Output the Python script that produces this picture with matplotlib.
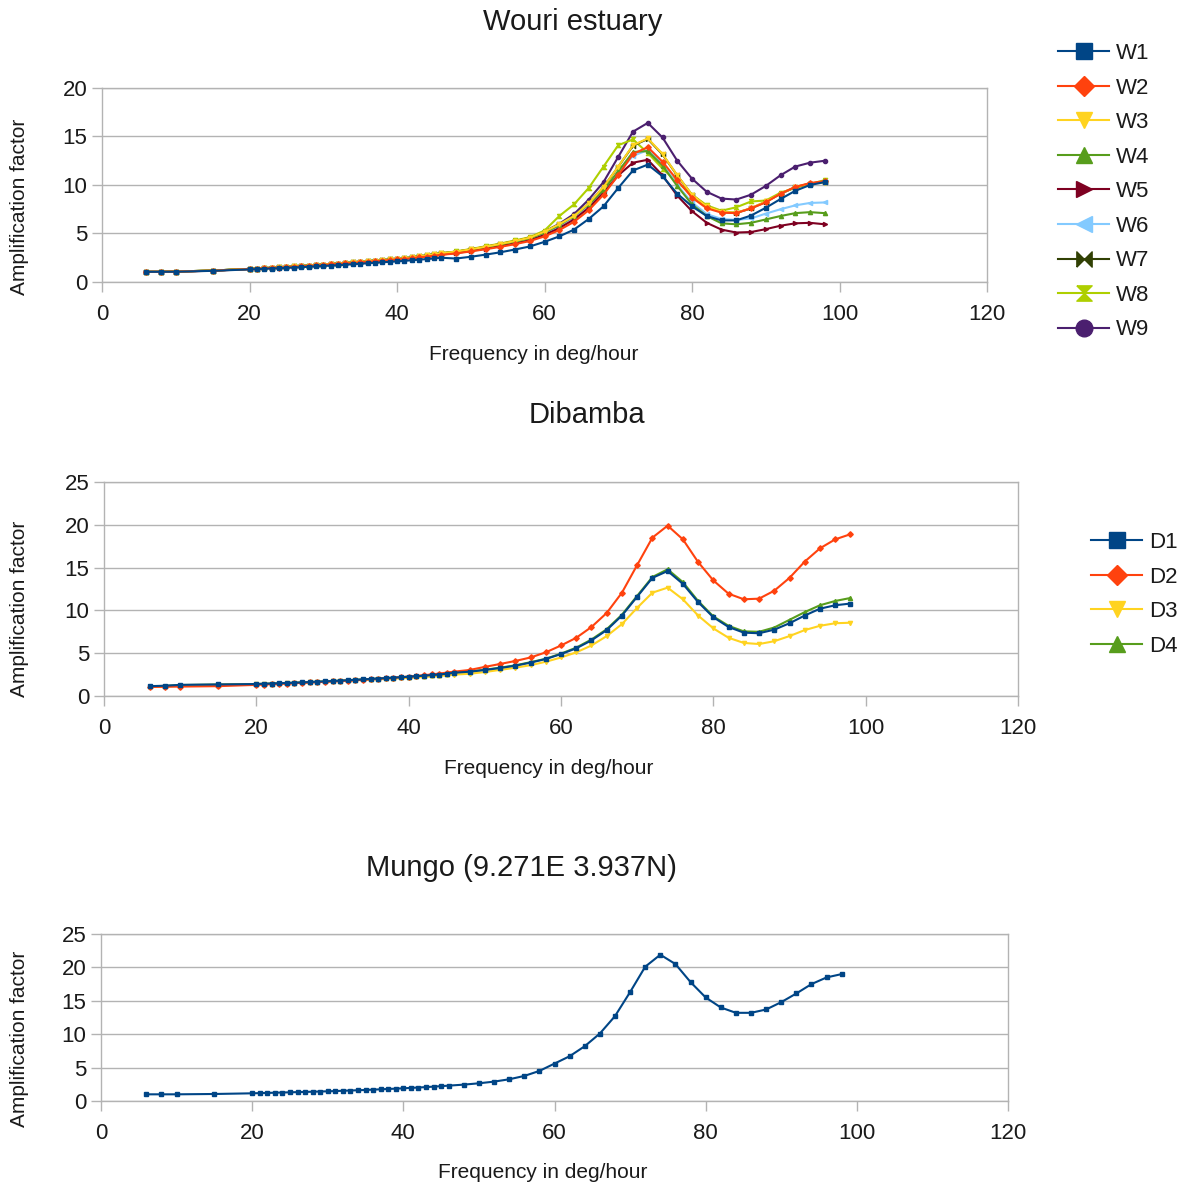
import matplotlib
matplotlib.use('Agg')
import matplotlib.pyplot as plt
from matplotlib.lines import Line2D

plt.rcParams['font.family'] = ['Liberation Sans', 'DejaVu Sans']
plt.rcParams['text.color'] = '#1a1a1a'

# Frequencies (deg/hour) shared by all stations
freq = [6, 8, 10, 15,
        20, 21, 22, 23, 24, 25, 26, 27, 28, 29,
        30, 31, 32, 33, 34, 35, 36, 37, 38, 39,
        40, 41, 42, 43, 44, 45, 46,
        48, 50, 52, 54, 56, 58, 60, 62, 64, 66,
        68, 70, 72, 74, 76, 78, 80, 82, 84, 86,
        88, 90, 92, 94, 96, 98]

# Wouri estuary stations
w1 = [1.05, 1.05, 1.06, 1.15,
      1.30, 1.33, 1.36, 1.39, 1.42, 1.45, 1.49, 1.53, 1.57, 1.61,
      1.65, 1.69, 1.73, 1.78, 1.83, 1.88, 1.93, 1.98, 2.03, 2.08,
      2.12, 2.18, 2.24, 2.30, 2.36, 2.43, 2.50,
      2.42, 2.60, 2.82, 3.06, 3.35, 3.66, 4.14, 4.70, 5.40, 6.50,
      7.80, 9.70, 11.50, 12.10, 10.90, 9.10, 7.80, 6.80, 6.35, 6.35,
      6.85, 7.65, 8.55, 9.40, 10.00, 10.30]
w2 = [1.05, 1.05, 1.07, 1.16,
      1.33, 1.37, 1.41, 1.45, 1.49, 1.53, 1.57, 1.61, 1.66, 1.71,
      1.76, 1.81, 1.86, 1.91, 1.96, 2.02, 2.08, 2.14, 2.20, 2.26,
      2.32, 2.38, 2.46, 2.54, 2.62, 2.71, 2.80,
      2.95, 3.15, 3.38, 3.62, 3.90, 4.22, 4.70, 5.35, 6.20, 7.40,
      9.00, 11.00, 13.20, 13.90, 12.40, 10.50, 8.70, 7.60, 7.15, 7.10,
      7.60, 8.20, 9.10, 9.80, 10.20, 10.40]
w3 = [1.05, 1.05, 1.08, 1.18,
      1.35, 1.39, 1.43, 1.47, 1.51, 1.55, 1.60, 1.65, 1.70, 1.75,
      1.80, 1.85, 1.90, 1.96, 2.02, 2.08, 2.14, 2.20, 2.26, 2.32,
      2.38, 2.44, 2.54, 2.64, 2.74, 2.85, 2.96,
      3.13, 3.37, 3.64, 3.92, 4.23, 4.57, 5.20, 5.95, 6.80, 8.10,
      9.80, 11.90, 14.10, 14.80, 13.20, 11.00, 9.00, 7.80, 7.25, 7.15,
      7.60, 8.30, 9.10, 9.80, 10.15, 10.25]
w4 = [1.05, 1.05, 1.08, 1.18,
      1.35, 1.39, 1.43, 1.47, 1.51, 1.55, 1.60, 1.65, 1.70, 1.75,
      1.80, 1.85, 1.90, 1.96, 2.02, 2.08, 2.14, 2.20, 2.26, 2.32,
      2.38, 2.44, 2.54, 2.64, 2.74, 2.85, 2.96,
      3.12, 3.35, 3.60, 3.88, 4.18, 4.50, 5.10, 5.85, 6.80, 8.00,
      9.50, 11.40, 13.40, 13.50, 12.00, 9.90, 8.00, 6.80, 6.05, 5.95,
      6.10, 6.45, 6.80, 7.10, 7.20, 7.10]
w5 = [1.05, 1.05, 1.07, 1.17,
      1.34, 1.38, 1.42, 1.46, 1.50, 1.54, 1.58, 1.63, 1.68, 1.73,
      1.78, 1.83, 1.88, 1.93, 1.99, 2.05, 2.11, 2.17, 2.23, 2.29,
      2.35, 2.41, 2.49, 2.57, 2.65, 2.74, 2.83,
      2.98, 3.20, 3.45, 3.70, 3.98, 4.30, 4.85, 5.55, 6.45, 7.65,
      9.20, 11.00, 12.30, 12.60, 11.00, 8.90, 7.30, 6.10, 5.40, 5.10,
      5.15, 5.45, 5.80, 6.05, 6.10, 5.95]
w6 = [1.05, 1.05, 1.07, 1.17,
      1.34, 1.38, 1.42, 1.46, 1.50, 1.54, 1.59, 1.64, 1.69, 1.74,
      1.79, 1.84, 1.89, 1.95, 2.01, 2.07, 2.13, 2.19, 2.25, 2.31,
      2.37, 2.43, 2.52, 2.61, 2.70, 2.80, 2.90,
      3.06, 3.28, 3.54, 3.80, 4.10, 4.42, 5.00, 5.75, 6.70, 7.90,
      9.40, 11.30, 13.00, 13.60, 12.20, 10.00, 8.20, 7.00, 6.50, 6.40,
      6.55, 7.05, 7.50, 7.90, 8.15, 8.20]
w7 = [1.05, 1.05, 1.08, 1.18,
      1.35, 1.39, 1.43, 1.47, 1.51, 1.55, 1.60, 1.65, 1.70, 1.75,
      1.80, 1.85, 1.90, 1.96, 2.02, 2.08, 2.14, 2.20, 2.26, 2.32,
      2.38, 2.44, 2.54, 2.64, 2.74, 2.85, 2.95,
      3.12, 3.36, 3.63, 3.91, 4.22, 4.56, 5.18, 5.93, 6.78, 8.08,
      9.78, 11.88, 14.05, 14.75, 13.15, 10.98, 8.98, 7.78, 7.23, 7.13,
      7.58, 8.28, 9.08, 9.78, 10.15, 10.30]
w8 = [1.05, 1.05, 1.08, 1.18,
      1.35, 1.39, 1.43, 1.47, 1.51, 1.55, 1.60, 1.65, 1.70, 1.75,
      1.80, 1.85, 1.90, 1.96, 2.02, 2.08, 2.14, 2.20, 2.26, 2.32,
      2.38, 2.44, 2.54, 2.64, 2.74, 2.85, 2.96,
      3.15, 3.40, 3.68, 3.96, 4.28, 4.62, 5.30, 6.80, 8.00, 9.70,
      11.90, 14.10, 14.70, 13.30, 11.70, 10.30, 9.00, 7.90, 7.35, 7.70,
      8.30, 8.40, 9.20, 9.70, 10.10, 10.50]
w9 = [1.05, 1.05, 1.08, 1.18,
      1.35, 1.39, 1.43, 1.47, 1.51, 1.55, 1.60, 1.65, 1.70, 1.75,
      1.80, 1.85, 1.90, 1.96, 2.02, 2.08, 2.14, 2.20, 2.26, 2.32,
      2.38, 2.44, 2.53, 2.62, 2.72, 2.82, 2.92,
      3.08, 3.30, 3.55, 3.82, 4.12, 4.45, 5.20, 6.00, 7.00, 8.50,
      10.30, 12.90, 15.50, 16.40, 14.90, 12.50, 10.65, 9.30, 8.60, 8.50,
      9.00, 9.90, 11.00, 11.90, 12.30, 12.50]

# Dibamba stations
d1 = [1.15, 1.20, 1.30, 1.35,
      1.40, 1.43, 1.46, 1.49, 1.52, 1.55, 1.59, 1.63, 1.67, 1.71,
      1.75, 1.79, 1.84, 1.89, 1.94, 1.99, 2.04, 2.09, 2.14, 2.19,
      2.25, 2.31, 2.37, 2.44, 2.51, 2.60, 2.72,
      2.84, 3.04, 3.27, 3.54, 3.90, 4.32, 4.90, 5.57, 6.50, 7.70,
      9.40, 11.60, 13.80, 14.60, 13.10, 10.97, 9.20, 8.06, 7.40, 7.33,
      7.75, 8.50, 9.40, 10.20, 10.60, 10.80]
d2 = [1.05, 1.08, 1.10, 1.15,
      1.30, 1.34, 1.38, 1.42, 1.46, 1.50, 1.54, 1.58, 1.62, 1.66,
      1.70, 1.75, 1.80, 1.85, 1.90, 1.96, 2.02, 2.08, 2.14, 2.20,
      2.27, 2.35, 2.43, 2.52, 2.62, 2.73, 2.85,
      3.04, 3.40, 3.74, 4.09, 4.50, 5.10, 5.90, 6.80, 8.06, 9.70,
      12.07, 15.30, 18.50, 19.90, 18.30, 15.65, 13.50, 11.95, 11.30, 11.37,
      12.30, 13.80, 15.70, 17.25, 18.30, 18.90]
d3 = [1.05, 1.10, 1.20, 1.30,
      1.36, 1.39, 1.42, 1.45, 1.48, 1.51, 1.55, 1.59, 1.63, 1.67,
      1.71, 1.75, 1.79, 1.83, 1.87, 1.91, 1.95, 1.99, 2.03, 2.07,
      2.12, 2.17, 2.22, 2.28, 2.34, 2.42, 2.50,
      2.60, 2.80, 3.05, 3.30, 3.60, 4.00, 4.50, 5.10, 5.90, 7.00,
      8.40, 10.30, 12.07, 12.66, 11.30, 9.40, 7.90, 6.80, 6.20, 6.07,
      6.40, 7.00, 7.70, 8.20, 8.50, 8.56]
d4 = [1.12, 1.18, 1.28, 1.34,
      1.40, 1.43, 1.46, 1.49, 1.52, 1.55, 1.59, 1.63, 1.67, 1.71,
      1.75, 1.79, 1.84, 1.89, 1.94, 1.99, 2.04, 2.09, 2.14, 2.19,
      2.25, 2.31, 2.37, 2.44, 2.51, 2.60, 2.72,
      2.86, 3.07, 3.31, 3.58, 3.95, 4.35, 4.95, 5.65, 6.60, 7.80,
      9.50, 11.70, 13.90, 14.80, 13.30, 11.10, 9.30, 8.20, 7.55, 7.50,
      8.00, 8.90, 9.80, 10.60, 11.10, 11.45]

# Mungo station
mungo = [1.00, 1.00, 1.00, 1.05,
         1.15, 1.18, 1.21, 1.24, 1.27, 1.30, 1.33, 1.36, 1.39, 1.42,
         1.45, 1.49, 1.53, 1.57, 1.61, 1.65, 1.70, 1.75, 1.80, 1.85,
         1.90, 1.96, 2.02, 2.08, 2.15, 2.22, 2.30,
         2.45, 2.65, 2.90, 3.25, 3.75, 4.50, 5.60, 6.70, 8.20, 10.10,
         12.70, 16.30, 20.10, 21.90, 20.50, 17.80, 15.50, 14.00, 13.20, 13.20,
         13.70, 14.80, 16.10, 17.50, 18.50, 19.00]

w_names = ['W1', 'W2', 'W3', 'W4', 'W5', 'W6', 'W7', 'W8', 'W9']
d_names = ['D1', 'D2', 'D3', 'D4']
colors = ['#004586', '#ff420e', '#ffd320', '#579d1c', '#7e0021',
          '#83caff', '#314004', '#aecf00', '#4b1f6f']

bowtie = [(-1, -1), (-1, 1), (0, 0), (1, 1), (1, -1), (0, 0), (-1, -1)]
hourglass = [(-1, 1), (1, 1), (0, 0), (1, -1), (-1, -1), (0, 0), (-1, 1)]
markers = ['s', 'D', 'v', '^', '>', '<', bowtie, hourglass, 'o']
msizes = [3.3, 2.8, 3, 3, 3, 3, 3, 3, 3]
leg_sizes = [11, 10, 12, 12, 12, 12, 11, 11, 12]

grid_col = '#b3b3b3'
W, H = 1190, 1185
fig = plt.figure(figsize=(W / 100, H / 100), dpi=100)


def panel(left, top, right, bottom, ymax):
    ax = fig.add_axes([left / W, 1 - bottom / H, (right - left) / W, (bottom - top) / H])
    ax.set_xlim(0, 120)
    ax.set_ylim(0, ymax)
    ax.set_xticks(range(0, 121, 20))
    ax.set_yticks(range(0, ymax + 1, 5))
    ax.yaxis.grid(True, color=grid_col, linewidth=1)
    ax.set_axisbelow(True)
    for s in ax.spines.values():
        s.set_color(grid_col)
        s.set_linewidth(1)
    ax.tick_params(colors=grid_col, labelcolor='#1a1a1a', labelsize=16,
                   length=7, width=1, direction='out')
    ax.tick_params(axis='x', pad=9)
    return ax


def draw_series(ax, series):
    # first series ends up on top, as in the original chart
    n = len(series)
    for i, (ys, c, m, ms) in enumerate(zip(series, colors, markers, msizes)):
        ax.plot(freq, ys, color=c, marker=m, markersize=ms, linewidth=1.5,
                zorder=3 + n - i)


leg_kw = dict(loc='upper left', frameon=False, fontsize=16, handlelength=2.3,
              handletextpad=0.3, labelspacing=0.61, borderpad=0, borderaxespad=0)

# Wouri estuary
ax1 = panel(102, 88, 987, 282, 20)
draw_series(ax1, [w1, w2, w3, w4, w5, w6, w7, w8, w9])
fig.text(573 / W, 1 - 22 / H, 'Wouri estuary', ha='center', va='center', fontsize=21)
fig.text(534 / W, 1 - 355 / H, 'Frequency in deg/hour', ha='center', va='center', fontsize=15)
fig.text(20 / W, 1 - 207 / H, 'Amplification factor', ha='center', va='center',
         rotation=90, fontsize=15)
h1 = [Line2D([], [], color=c, marker=m, markersize=s, linewidth=1.5)
      for c, m, s in zip(colors, markers, leg_sizes)]
fig.legend(h1, w_names, bbox_to_anchor=(1058 / W, 1 - 43 / H), **leg_kw)

# Dibamba
ax2 = panel(104, 482, 1018, 696, 25)
draw_series(ax2, [d1, d2, d3, d4])
fig.text(587 / W, 1 - 415 / H, 'Dibamba', ha='center', va='center', fontsize=21)
fig.text(549 / W, 1 - 769 / H, 'Frequency in deg/hour', ha='center', va='center', fontsize=15)
fig.text(20 / W, 1 - 609 / H, 'Amplification factor', ha='center', va='center',
         rotation=90, fontsize=15)
fig.legend(h1[:4], d_names, bbox_to_anchor=(1091 / W, 1 - 532 / H), **leg_kw)

# Mungo
ax3 = panel(101, 934, 1008, 1101, 25)
ax3.plot(freq, mungo, color=colors[0], marker='s', markersize=3.3, linewidth=1.5, zorder=4)
fig.text(521 / W, 1 - 868 / H, 'Mungo (9.271E 3.937N)', ha='center', va='center', fontsize=21)
fig.text(543 / W, 1 - 1173 / H, 'Frequency in deg/hour', ha='center', va='center', fontsize=15)
fig.text(20 / W, 1 - 1039 / H, 'Amplification factor', ha='center', va='center',
         rotation=90, fontsize=15)

fig.savefig('out.png', dpi=100)
